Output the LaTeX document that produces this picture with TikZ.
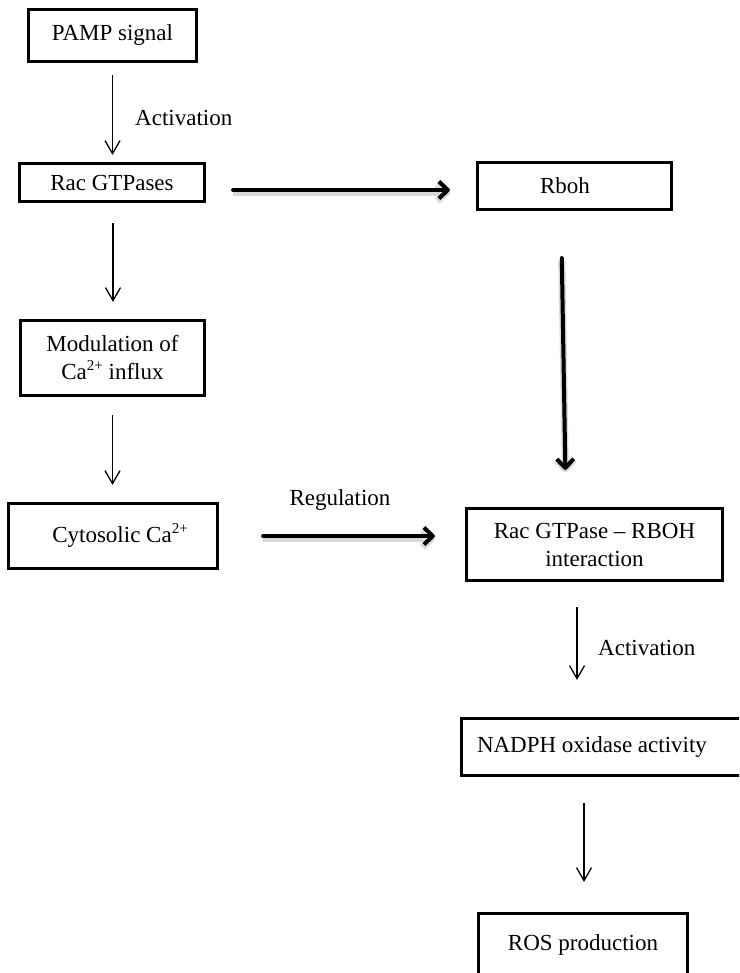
\documentclass[tikz,border=0pt]{standalone}
\usepackage{fontspec}
\setmainfont{Liberation Serif}
\usetikzlibrary{arrows.meta}
% superscript charge, e.g. Ca^{2+}
\newcommand{\chg}[1]{\raisebox{9pt}{\fontsize{15}{15}\selectfont #1}}
\begin{document}
\begin{tikzpicture}[x=1pt,y=-1pt,
  every node/.style={font=\fontsize{23}{28}\selectfont, inner sep=0pt},
  box/.style={draw, line width=3.2pt, rectangle, align=center},
  lbl/.style={anchor=west},
  thinarrow/.style={line width=1.3pt, -{Straight Barb[length=13pt,width=15pt]}},
  thickarrow/.style={line width=4pt, line cap=round,
    -{Straight Barb[length=9pt,width=17pt,line join=round]},
    preaction={draw=black!15, line width=7pt, transform canvas={yshift=-2.5pt}}}
]
\useasboundingbox (0,0) rectangle (739,973);
\clip (0,0) rectangle (739,973);

% left column
\node[box, minimum width=168pt, minimum height=52pt] (pamp) at (112.5,35.5) {PAMP signal};
\node[box, minimum width=185pt, minimum height=38pt] (rac) at (112,182.5) {Rac GTPases};
\node[box, minimum width=184pt, minimum height=75pt] (mod) at (112.5,358) {Modulation of\\Ca\chg{2+} influx};
\node[box, minimum width=209pt, minimum height=65pt] (cyto) at (113,536) {\hspace*{14pt}Cytosolic Ca\chg{2+}};

% right column
\node[box, minimum width=194pt, minimum height=47pt] (rboh) at (574.5,186) {Rboh\hspace*{19pt}};
\node[box, minimum width=256pt, minimum height=72pt] (racrboh) at (594.5,544.5) {Rac GTPase -- RBOH\\interaction};
\node[box, text width=259.5pt, inner xsep=15.5pt, minimum height=57pt, align=flush left] (nadph) at (606.75,747) {NADPH oxidase activity};
\node[box, minimum width=209pt, minimum height=62.5pt] (ros) at (583,944.75) {ROS production};

% thin arrows
\draw[thinarrow, shorten <=12pt, shorten >=7pt] (pamp.south) -- (pamp.south |- rac.north);
\node[lbl] (act1) at (135,118) {Activation};
\draw[thinarrow, shorten <=20pt, shorten >=17pt] ([xshift=1pt]rac.south) -- ([xshift=1pt]rac.south |- mod.north);
\draw[thinarrow, shorten <=18pt, shorten >=17pt] (mod.south) -- (mod.south |- cyto.north);
\draw[thinarrow, shorten <=25pt, shorten >=37pt] ([xshift=-17.5pt]racrboh.south) -- ([xshift=-17.5pt]racrboh.south |- nadph.north);
\node[lbl] (act2) at (598,648) {Activation};
\draw[thinarrow, shorten <=26pt, shorten >=30pt] (584,777) coordinate (n5) -- (n5 |- ros.north);

% thick arrows
\draw[thickarrow, shorten <=27pt, shorten >=26pt] ([yshift=-7.5pt]rac.east) -- ([yshift=-7.5pt]rac.east -| rboh.west);
\draw[thickarrow, shorten <=44pt, shorten >=30pt] (cyto.east) -- (cyto.east -| racrboh.west);
\node (reg) at (340,500) {Regulation};
\draw[thickarrow, shorten <=47pt, shorten >=37pt] ([xshift=-13.5pt]rboh.south) -- ([xshift=-28.5pt]racrboh.north);
\end{tikzpicture}
\end{document}
